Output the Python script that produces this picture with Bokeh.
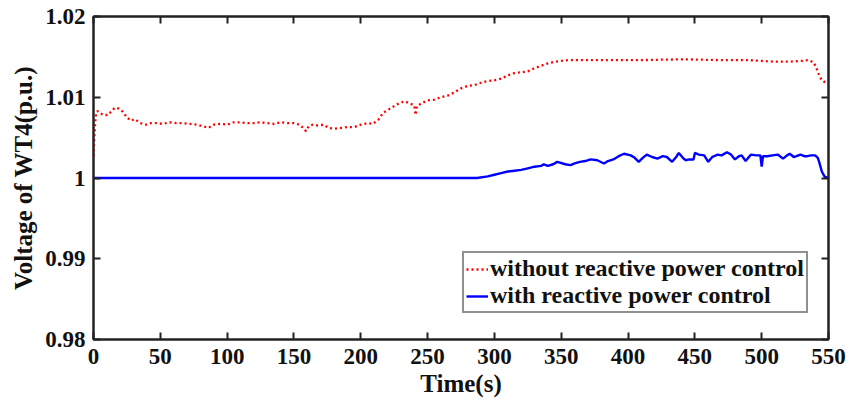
from bokeh.plotting import figure
from bokeh.models import (LinearAxis, FixedTicker, Range1d, Legend, LegendItem)
from bokeh.embed import file_html
from bokeh.resources import INLINE

# ---------------- data ----------------
red_t = [0, 0.5, 1, 1.5, 2, 3, 5, 8, 11, 13, 16, 19, 22, 25, 28, 31, 35, 39, 43, 47,
         52, 57, 62, 67, 72, 77, 82, 86, 90, 95, 100, 105, 110, 115, 120, 125, 130,
         135, 140, 145, 150, 154, 157, 159, 161, 164, 168, 172, 176, 180, 185, 190,
         195, 200, 205, 209, 213, 217, 221, 225, 229, 233, 237, 240, 241, 242, 246,
         250, 255, 260, 265, 270, 275, 280, 285, 290, 295, 300, 305, 310, 315, 320,
         325, 330, 335, 340, 345, 350, 355, 380, 410, 441, 470, 490, 500, 510, 520,
         530, 535, 539, 541, 543, 545, 547, 550]
red_v = [1.0027, 1.0045, 1.0062, 1.0074, 1.0081, 1.0083, 1.0080, 1.0078, 1.0078,
         1.0082, 1.0087, 1.0086, 1.0082, 1.0075, 1.0071, 1.0073, 1.0068, 1.0066,
         1.0068, 1.0068, 1.0067, 1.0069, 1.0068, 1.0068, 1.0067, 1.0066, 1.0064,
         1.0062, 1.0066, 1.0067, 1.0066, 1.0069, 1.0069, 1.0068, 1.0068, 1.0069,
         1.0068, 1.0067, 1.0069, 1.0068, 1.0068, 1.0066, 1.0062, 1.0058, 1.0064,
         1.0066, 1.0065, 1.0066, 1.0062, 1.0061, 1.0062, 1.0063, 1.0063, 1.0066,
         1.0068, 1.0067, 1.0072, 1.0081, 1.0085, 1.0089, 1.0093, 1.0095, 1.0092,
         1.0090, 1.0078, 1.0089, 1.0093, 1.0096, 1.0097, 1.0100, 1.0102, 1.0106,
         1.0111, 1.0114, 1.0115, 1.0118, 1.0120, 1.0121, 1.0123, 1.0127, 1.0130,
         1.0131, 1.0132, 1.0136, 1.0139, 1.0142, 1.0144, 1.0145, 1.0146, 1.0146,
         1.0146, 1.0147, 1.0146, 1.0146, 1.0145, 1.0144, 1.0144, 1.0145, 1.0146,
         1.0143, 1.0136, 1.0127, 1.0121, 1.0119, 1.0117]

blue_t = [0, 50, 100, 150, 200, 250, 287, 295, 300, 305, 310, 315, 320, 325, 330,
          335, 337, 340, 344, 347, 349, 353, 357, 360, 364, 368, 372, 377, 382, 385,
          389, 393, 397, 402, 405, 408, 411, 414, 418, 422, 426, 429, 433, 436, 438,
          441, 443, 446, 449, 450, 453, 457, 460, 463, 467, 470, 474, 477, 480, 483,
          485, 488, 492, 496, 499, 500, 501, 504, 508, 512, 516, 519, 521, 524, 526,
          529, 532, 534, 537, 540, 542, 543, 545, 547, 548, 550]
blue_v = [1.0000, 1.0000, 1.0000, 1.0000, 1.0000, 1.0000, 1.0000, 1.0002, 1.0004,
          1.0006, 1.0008, 1.0009, 1.0010, 1.0012, 1.0014, 1.0015, 1.0017, 1.0015,
          1.0017, 1.0020, 1.0019, 1.0017, 1.0016, 1.0018, 1.0020, 1.0021, 1.0023,
          1.0022, 1.0018, 1.0021, 1.0023, 1.0027, 1.0030, 1.0028, 1.0025, 1.0020,
          1.0025, 1.0029, 1.0026, 1.0024, 1.0027, 1.0026, 1.0020, 1.0026, 1.0031,
          1.0025, 1.0022, 1.0023, 1.0023, 1.0031, 1.0029, 1.0028, 1.0020, 1.0026,
          1.0029, 1.0028, 1.0032, 1.0029, 1.0023, 1.0027, 1.0028, 1.0021, 1.0029,
          1.0028, 1.0028, 1.0014, 1.0027, 1.0027, 1.0028, 1.0029, 1.0024, 1.0028,
          1.0030, 1.0026, 1.0027, 1.0029, 1.0027, 1.0027, 1.0028, 1.0028, 1.0025,
          1.0020, 1.0008, 1.0002, 1.0001, 1.0000]

x_ticks = [0, 50, 100, 150, 200, 250, 300, 350, 400, 450, 500, 550]
y_ticks = [0.98, 0.99, 1.0, 1.01, 1.02]
y_tick_labels = ["0.98", "0.99", "1", "1.01", "1.02"]
series_names = ["without reactive power control", "with reactive power control"]
x_label = "Time(s)"
y_label = "Voltage of WT4(p.u.)"

FONT = "Liberation Serif"

p = figure(width=849, height=405, output_backend="svg", toolbar_location=None,
           x_range=Range1d(0, 550), y_range=Range1d(0.98, 1.02),
           min_border_left=93, min_border_right=21, min_border_top=16,
           min_border_bottom=66, background_fill_color="white",
           border_fill_color="white")
p.xgrid.visible = False
p.ygrid.visible = False
p.outline_line_color = "#222222"
p.outline_line_width = 2

r_red = p.line(red_t, red_v, line_color="red", line_width=2.3, line_dash="2 3")
r_blue = p.line(blue_t, blue_v, line_color="blue", line_width=2.4)


def style_axis(ax):
    ax.axis_line_color = "#222222"
    ax.axis_line_width = 2
    ax.major_tick_line_color = "#222222"
    ax.major_tick_line_width = 2
    ax.major_tick_in = 7
    ax.major_tick_out = 0
    ax.minor_tick_line_color = None
    ax.major_label_text_font = FONT
    ax.major_label_text_font_style = "bold"
    ax.major_label_text_color = "#111111"
    ax.major_label_text_font_size = "23px"
    ax.axis_label_text_font = FONT
    ax.axis_label_text_font_style = "bold"
    ax.axis_label_text_color = "#111111"
    ax.axis_label_text_font_size = "25px"


xa = p.xaxis[0]
ya = p.yaxis[0]
style_axis(xa)
style_axis(ya)
xa.ticker = FixedTicker(ticks=x_ticks)
ya.ticker = FixedTicker(ticks=y_ticks)
ya.major_label_overrides = {t: s for t, s in zip(y_ticks, y_tick_labels)}
xa.major_label_standoff = 9
ya.major_label_standoff = 8
xa.axis_label = x_label
ya.axis_label = y_label
xa.axis_label_standoff = 3
ya.axis_label_standoff = 5

top = LinearAxis(ticker=FixedTicker(ticks=x_ticks))
right = LinearAxis(ticker=FixedTicker(ticks=y_ticks))
for ax in (top, right):
    style_axis(ax)
    ax.major_label_text_font_size = "0px"
    ax.major_label_standoff = 0
    ax.major_label_text_color = None
p.add_layout(top, "above")
p.add_layout(right, "right")

legend = Legend(items=[LegendItem(label=series_names[0], renderers=[r_red]),
                       LegendItem(label=series_names[1], renderers=[r_blue])],
                location=(369, 26))
legend.label_text_font = FONT
legend.label_text_font_style = "bold"
legend.label_text_font_size = "24px"
legend.label_text_color = "#111111"
legend.border_line_color = "#222222"
legend.border_line_width = 2
legend.padding = 2
legend.spacing = 0
legend.margin = 0
legend.glyph_width = 22
legend.glyph_height = 26
legend.label_height = 26
legend.label_standoff = 2
legend.background_fill_alpha = 1
p.add_layout(legend, "center")

open("out.html", "w").write(file_html(p, INLINE))
